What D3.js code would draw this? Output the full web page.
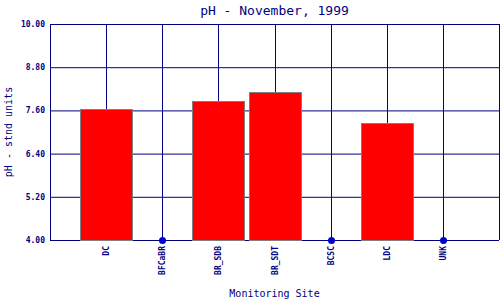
<!DOCTYPE html>
<html><head><meta charset="utf-8">
<script src="https://cdn.jsdelivr.net/npm/d3@7"></script>
<style>body{margin:0;background:#fff}svg{display:block}</style>
</head><body>
<svg id="c" width="500" height="300"></svg>
<script>
const sites = ["DC","BFCaBR","BR_SDB","BR_SDT","BCSC","LDC","UNK"];
const phValues = [7.64, null, 7.85, 8.10, null, 7.24, null];
const yTicks = [4.00, 5.20, 6.40, 7.60, 8.80, 10.00];
const title = "pH - November, 1999";
const xTitle = "Monitoring Site";
const yTitle = "pH - stnd units";

const svg = d3.select("#c");
const L = 50, R = 499, T = 24, B = 240;
const navy = "#000080";
const font = "'DejaVu Sans Mono', 'Liberation Mono', monospace";

const x = d3.scaleLinear().domain([0, sites.length + 1]).range([L, R]);
const y = d3.scaleLinear().domain([4, 10]).range([B, T]);
const barW = 52;

// grid
const g = svg.append("g");
g.selectAll(".hg").data(yTicks).join("line")
  .attr("x1", L).attr("x2", R)
  .attr("y1", d => y(d) + 0.5).attr("y2", d => y(d) + 0.5)
  .attr("stroke", navy).attr("stroke-width", 1);
g.selectAll(".vg").data(d3.range(0, sites.length + 2)).join("line")
  .attr("x1", d => Math.round(x(d)) + 0.5).attr("x2", d => Math.round(x(d)) + 0.5)
  .attr("y1", T).attr("y2", B)
  .attr("stroke", navy).attr("stroke-width", 1);

// bars
const data = sites.map((s, i) => ({s, i: i + 1, v: phValues[i]}));
svg.selectAll(".bar").data(data.filter(d => d.v != null)).join("rect")
  .attr("x", d => Math.round(x(d.i) - barW / 2) + 0.5)
  .attr("y", d => Math.round(y(d.v)) + 0.5)
  .attr("width", barW)
  .attr("height", d => B - Math.round(y(d.v)))
  .attr("fill", "#ff0000").attr("stroke", "#808080").attr("stroke-width", 1);

// missing markers
svg.selectAll(".dot").data(data.filter(d => d.v == null)).join("circle")
  .attr("cx", d => Math.round(x(d.i)) + 0.5).attr("cy", B + 0.5).attr("r", 3.5)
  .attr("fill", "#0000cc");

// y tick labels
svg.selectAll(".yt").data(yTicks).join("text")
  .attr("x", 45).attr("y", d => y(d) + 3)
  .attr("text-anchor", "end")
  .attr("font-family", font).attr("font-size", 8).attr("font-weight", "bold")
  .attr("fill", navy)
  .text(d => d.toFixed(2));

// x tick labels
svg.selectAll(".xt").data(data).join("text")
  .attr("transform", d => `translate(${Math.round(x(d.i)) + 3},246) rotate(-90)`)
  .attr("text-anchor", "end")
  .attr("font-family", font).attr("font-size", 8).attr("font-weight", "bold")
  .attr("fill", navy)
  .text(d => d.s);

// titles
svg.append("text").attr("x", (L + R) / 2).attr("y", 15)
  .attr("text-anchor", "middle").attr("font-family", font).attr("font-size", 13)
  .attr("fill", navy).text(title);
svg.append("text").attr("x", (L + R) / 2).attr("y", 297)
  .attr("text-anchor", "middle").attr("font-family", font).attr("font-size", 10)
  .attr("fill", navy).text(xTitle);
svg.append("text").attr("transform", `translate(12,${(T + B) / 2}) rotate(-90)`)
  .attr("text-anchor", "middle").attr("font-family", font).attr("font-size", 10)
  .attr("fill", navy).text(yTitle);
</script>
</body></html>
